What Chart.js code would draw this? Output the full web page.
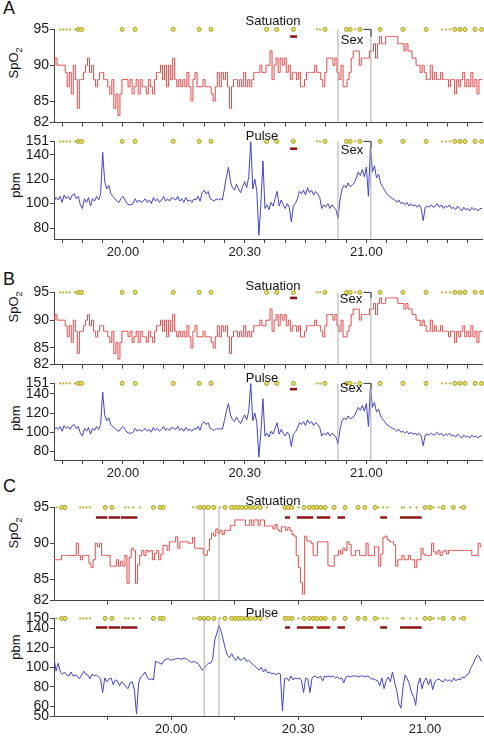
<!DOCTYPE html>
<html>
<head>
<meta charset="utf-8">
<script src="https://cdn.jsdelivr.net/npm/chart.js@4.4.0/dist/chart.umd.min.js"></script>
<style>
  body { margin: 0; background: #fff; font-family: 'Liberation Sans', Arial, sans-serif; }
  #page { position: relative; width: 484px; height: 738px; overflow: hidden; }
  canvas { position: absolute; left: 0; }
  .txt { position: absolute; color: #111; font-size: 13px; white-space: nowrap; transform: translate(-50%, -50%); }
  .letter { position: absolute; left: 3px; font-size: 18px; line-height: 18px; color: #111; }
  .ytitle { position: absolute; color: #111; font-size: 13px; white-space: nowrap; transform: translate(-50%, -50%) rotate(-90deg); }
  .ytitle sub { font-size: 9px; }
</style>
</head>
<body>
<div id="page">
  <div class="letter" style="top:-1px">A</div>
  <div class="letter" style="top:270px">B</div>
  <div class="letter" style="top:477px">C</div>

  <div class="ytitle" style="left:15px; top:63px">SpO<sub>2</sub></div>
  <div class="ytitle" style="left:15px; top:185px">pbm</div>
  <div class="ytitle" style="left:15px; top:307px">SpO<sub>2</sub></div>
  <div class="ytitle" style="left:15px; top:418px">pbm</div>
  <div class="ytitle" style="left:15px; top:533px">SpO<sub>2</sub></div>
  <div class="ytitle" style="left:15px; top:647px">pbm</div>
</div>
<script>
// sampling of the traces (minutes after midnight, 0.5 min steps)
const STEP = 0.5;
const T0_AB = 1183;    // 19.43
const T0_C = 1172.3;   // 19.32

// Panel A / B (same recording)
const spo2AB = [
  90,91,90,90,90,90,89,87,89,86, 90,88,84,88,88,89,90,91,89,90,
  88,87,88,89,89,88,88,87,86,88, 84,86,83,86,88,88,88,87,88,86,
  87,88,86,88,87,87,86,88,87,86, 88,89,89,90,88,90,87,90,88,91,
  88,87,88,87,88,87,89,87,85,88, 89,87,87,87,88,87,87,87,86,85,
  87,89,87,89,88,89,87,84,87,88, 88,87,88,87,89,87,88,87,88,89,
  89,89,90,89,89,90,90,92,88,90, 91,89,91,90,91,89,90,88,89,89,
  88,89,87,87,88,89,89,89,89,90, 89,89,88,87,89,91,91,91,90,91,
  89,88,90,87,87,88,89,91,92,92, 92,90,91,91,91,91,92,92,93,91,
  93,94,93,93,94,94,94,94,94,94, 93,93,93,92,93,92,92,91,91,90,
  90,89,90,89,88,88,90,88,89,88, 88,89,88,88,88,87,88,88,86,88,
  87,88,89,87,88,87,89,87,88,86, 88,88
];
const pulseAB = [
  102,105,103,106,101,107,104,106,103,107, 108,104,106,99,96,104,101,105,98,104,
  102,106,103,108,142,118,112,115,108,106, 104,102,101,104,106,103,100,99,99,100,
  104,101,103,101,102,104,101,103,100,105, 102,104,101,103,106,102,104,102,105,104,
  103,106,102,104,101,105,102,103,101,104, 103,106,102,109,111,108,110,104,103,102,
  104,103,104,103,112,122,130,118,113,111, 116,112,109,114,118,113,122,151,112,120,
  110,74,100,135,96,99,95,101,98,104, 110,98,103,99,96,100,97,85,98,100,
  104,110,108,111,107,113,109,111,107,110, 108,105,96,99,97,100,96,99,97,95,
  88,103,112,115,113,117,114,115,117,121, 126,123,128,122,130,106,147,126,131,121,
  124,117,114,111,108,107,105,104,103,101, 103,100,101,99,101,98,100,98,99,97,
  99,96,86,97,98,97,99,97,98,100, 97,99,96,98,97,99,96,97,95,98,
  96,94,97,95,96,94,97,95,96,94, 96,96
];
const marksBigAB = [1189.0, 1189.8, 1199.8, 1203.0, 1212.4, 1218.8, 1221.7, 1235.4, 1237.9, 1242.0,
  1249.8, 1255.1, 1256.0, 1258.4, 1263.4, 1269.0, 1274.7, 1281.8, 1283.1, 1284.3, 1286.8, 1288.4];
const marksSmallAB = [1184.5, 1185.3, 1186.1, 1186.9, 1188.2, 1247.8, 1248.6, 1257.2, 1278.6, 1279.6, 1280.6];
const redStartAB = [1241.2];
const redEndAB = [1242.9];
const sexLinesAB = [1253.0, 1261.1];

// Panel C
const spo2C = [
  87.7,87.7,87.7,87.7,88.3,88.3,88.3,88.3,88.3,88.3, 88.3,90,88.3,87.7,88.3,88.3,88.3,87.2,86.6,87.7,
  90,89.5,90,88.3,88.3,88.3,88.3,86.8,86.8,86.8, 87.7,86.8,87.5,86.8,88.3,84.4,88,89.3,89,84.4,
  87,88.3,89,88.3,89,88.8,89,87.7,88.6,89, 87.7,88.5,89.7,89.7,89,90.2,90.2,90.2,90.9,89.3,
  90.2,90.2,90.2,90.2,90,90,90.8,89.3,89.3,89.3, 89.3,88.5,88.3,89,90.6,91.4,91,92,91.4,91.8,
  91.2,91.8,91.8,91.8,92.5,92.5,93.25,93.25,93.25,93.25, 93.25,92.5,92.5,93.25,92.5,93.25,93.25,92.5,93.25,93.25,
  92.4,92.4,92.4,92.4,92,92.6,91.9,91.6,92.3,92.3, 91.8,92.2,91.8,91.2,91,88.3,86.6,84.5,82.9,91,
  90.3,90.3,90,88.3,88.3,90.2,90.2,90.2,90.2,90.2, 86.9,86.8,86.8,88.3,88.3,89,88.5,89.3,89,90.2,
  89.8,88.3,88.3,89,89,88.3,88.3,88.3,90,88.3, 88.3,88.3,89.5,89.5,86.8,88.5,90.8,91,90.5,90.2,
  90.2,89.8,86.8,87.7,87.7,88.3,87.7,87.7,88.3,87.7, 87.7,86.6,87.7,87.7,89.3,88.5,88.3,88.3,88.3,90,
  88.8,88.5,89,88.3,88.8,89,88.5,89,89,89, 89,89,89,89,89,89,89,89,88.3,88.3,
  88.3,90,89.5
];
const pulseC = [
  109,96,104,95,93,95,92,91,95,91, 92,91,88,92,96,93,92,88,93,91,
  92,90,88,74,89,85,88,89,82,87, 86,81,85,83,80,78,84,85,77,52,
  84,90,92,95,90,87,88,87,106,105, 104,103,107,108,109,107,108,108,109,109,
  108,109,109,108,106,105,106,105,104,101, 97,99,102,104,104,108,128,135,143,137,
  128,119,112,110,114,109,107,111,107,108, 110,106,107,105,103,101,99,97,100,95,
  98,94,95,93,94,92,94,93,55,88, 89,86,91,87,89,88,89,86,74,89,
  88,74,89,91,90,89,91,86,91,90, 91,90,91,89,90,88,89,84,90,91,
  90,91,91,91,90,91,91,90,91,90, 88,88,87,86,81,89,78,86,90,85,
  95,85,76,63,58,80,92,88,83,74, 70,61,82,89,78,86,89,82,88,77,
  85,87,88,86,85,88,86,87,85,89, 86,88,87,90,89,92,93,99,103,108,
  112,111,106
];
const marksBigC = [1174.1, 1174.9, 1184.4, 1186.0, 1195.8, 1197.4, 1198.1, 1206.8, 1207.8, 1208.8,
  1210.1, 1212.7, 1214.3, 1215.1, 1215.9, 1216.7, 1217.7, 1218.7, 1219.8, 1221.0, 1226.9, 1227.7,
  1228.5, 1231.4, 1232.7, 1233.6, 1234.4, 1235.4, 1236.4, 1238.5, 1241.1, 1244.2, 1245.8, 1248.2,
  1260.0, 1261.2, 1264.3, 1266.7, 1269.1];
const marksSmallC = [1172.9, 1178.5, 1179.2, 1180.0, 1180.8, 1189.1, 1189.9, 1191.0, 1192.6, 1205.2,
  1206.0, 1211.5, 1222.6, 1230.1, 1249.0, 1250.1, 1251.1, 1254.5, 1255.0, 1256.5, 1258.0, 1262.0,
  1263.2, 1268.3];
const redStartC = [1182.2, 1185.2, 1188.1, 1226.9, 1229.7, 1234.4, 1239.3, 1249.4, 1254.1];
const redEndC = [1184.9, 1187.9, 1192.0, 1228.1, 1233.6, 1237.6, 1241.1, 1251.0, 1259.2];
const sexLinesC = [1207.8, 1211.3];

// tick values
const spo2Ticks = [82, 85, 90, 95];
const pulseTicksAB = [80, 100, 120, 140, 151];
const pulseTicksC = [50, 60, 80, 100, 120, 140, 150];
const xTicksAB = [1185, 1190, 1195, 1200, 1205, 1210, 1215, 1220, 1225, 1230, 1235, 1240, 1245,
  1250, 1255, 1260, 1265, 1270, 1275, 1280, 1285];
const xTicksC = [1185, 1200, 1215, 1230, 1245, 1260];

const RED = '#e04a4a';
const BLUE = '#4343c6';
const AXIS = '#444';

function fmtTime(v) {
    const h = Math.floor(v / 60);
    const m = Math.round(v - h * 60);
    return h + '.' + (m < 10 ? '0' + m : m);
}

function series(t0, vals) {
    return vals.map((v, i) => ({ x: t0 + i * STEP, y: v }));
}

function buildPanel(cfg) {
    const page = document.getElementById('page');
    const canvas = document.createElement('canvas');
    const padTop = 8;
    const axisH = cfg.xLabels ? 22 : 5;
    canvas.width = 484;
    canvas.height = padTop + (cfg.bottom - cfg.top) + axisH;
    canvas.style.top = (cfg.top - padTop) + 'px';
    page.appendChild(canvas);

    // vertical event lines
    const vlines = [];
    cfg.lines.forEach(t => {
        vlines.push({ x: t, y: cfg.yMin }, { x: t, y: cfg.yMax }, { x: t, y: null });
    });
    // red event dashes
    const red = [];
    cfg.redStart.forEach((s, i) => {
        red.push({ x: s, y: cfg.redLevel }, { x: cfg.redEnd[i], y: cfg.redLevel }, { x: cfg.redEnd[i], y: null });
    });
    const datasets = [
        { data: vlines, borderColor: '#ababab', borderWidth: 1, pointRadius: 0, spanGaps: false },
        { data: series(cfg.t0, cfg.values), borderColor: cfg.color, borderWidth: 1, pointRadius: 0,
          stepped: cfg.stepped ? 'middle' : false },
        { data: cfg.marksBig.map(t => ({ x: t, y: cfg.yMax })), showLine: false, pointRadius: 2,
          pointBackgroundColor: '#e9e25c', pointBorderColor: '#a39c2e', pointBorderWidth: 1, clip: false },
        { data: cfg.marksSmall.map(t => ({ x: t, y: cfg.yMax })), showLine: false, pointRadius: 0.9,
          pointBackgroundColor: '#cfc84a', pointBorderColor: '#aaa236', pointBorderWidth: 0.5, clip: false },
        { data: red, borderColor: '#8e1414', borderWidth: 2.6, pointRadius: 0, spanGaps: false, clip: false }
    ];
    if (cfg.bracket) {
        datasets.push({
            data: [{ x: cfg.bracket[0], y: cfg.yMax }, { x: cfg.bracket[1], y: cfg.yMax },
                   { x: cfg.bracket[1], y: cfg.yMax - cfg.bracketDrop }],
            borderColor: '#333', borderWidth: 1, pointRadius: 0, clip: false
        });
    }

    new Chart(canvas, {
        type: 'line',
        data: { datasets },
        options: {
            responsive: false,
            animation: false,
            events: [],
            layout: { autoPadding: false, padding: { top: padTop, right: cfg.padRight, left: 0, bottom: 0 } },
            plugins: { legend: { display: false }, tooltip: { enabled: false } },
            scales: {
                x: {
                    type: 'linear',
                    min: cfg.xMin,
                    max: cfg.xMax,
                    afterFit: s => { s.height = axisH; },
                    afterBuildTicks: s => { s.ticks = cfg.xTicks.map(v => ({ value: v })); },
                    grid: { drawOnChartArea: false, drawTicks: true, tickLength: 4, color: AXIS },
                    border: { display: true, color: AXIS, width: 1 },
                    ticks: {
                        autoSkip: false,
                        maxRotation: 0,
                        padding: 2,
                        color: '#1a1a1a',
                        font: { family: 'Liberation Sans', size: 13 },
                        callback: v => (cfg.xLabels && v % 30 === 0) ? fmtTime(v) : ''
                    }
                },
                y: {
                    min: cfg.yMin,
                    max: cfg.yMax,
                    afterFit: s => { s.width = 54; },
                    afterBuildTicks: s => { s.ticks = cfg.yTicks.map(v => ({ value: v })); },
                    grid: { drawOnChartArea: false, drawTicks: true, tickLength: 4, color: AXIS },
                    border: { display: true, color: AXIS, width: 1 },
                    ticks: {
                        autoSkip: false,
                        padding: 1,
                        color: '#1a1a1a',
                        font: { family: 'Liberation Sans', size: 14 }
                    }
                }
            }
        }
    });
}

const abX = { t0: T0_AB, xMin: 1183, xMax: 1288.5, xTicks: xTicksAB, padRight: 2,
    marksBig: marksBigAB, marksSmall: marksSmallAB, redStart: redStartAB, redEnd: redEndAB,
    lines: sexLinesAB, bracket: [1259.3, 1261.1] };
const cX = { t0: T0_C, xMin: 1172.3, xMax: 1273.7, xTicks: xTicksC, padRight: 1,
    marksBig: marksBigC, marksSmall: marksSmallC, redStart: redStartC, redEnd: redEndC,
    lines: sexLinesC, bracket: null };

// A
buildPanel(Object.assign({}, abX, { top: 28, bottom: 127, values: spo2AB, color: RED, stepped: true,
    yMin: 82, yMax: 95, yTicks: spo2Ticks, redLevel: 94, bracketDrop: 1, xLabels: false }));
buildPanel(Object.assign({}, abX, { top: 140, bottom: 239, values: pulseAB, color: BLUE, stepped: false,
    yMin: 71, yMax: 151, yTicks: pulseTicksAB, redLevel: 145, bracketDrop: 6, xLabels: true }));
// B
buildPanel(Object.assign({}, abX, { top: 291, bottom: 369, values: spo2AB, color: RED, stepped: true,
    yMin: 82, yMax: 95, yTicks: spo2Ticks, redLevel: 94, bracketDrop: 1, xLabels: false }));
buildPanel(Object.assign({}, abX, { top: 382, bottom: 460, values: pulseAB, color: BLUE, stepped: false,
    yMin: 71, yMax: 151, yTicks: pulseTicksAB, redLevel: 145, bracketDrop: 6, xLabels: true }));
// C
buildPanel(Object.assign({}, cX, { top: 506, bottom: 605, values: spo2C, color: RED, stepped: true,
    yMin: 82, yMax: 95, yTicks: spo2Ticks, redLevel: 93.6, xLabels: false }));
buildPanel(Object.assign({}, cX, { top: 617, bottom: 716, values: pulseC, color: BLUE, stepped: false,
    yMin: 50, yMax: 150, yTicks: pulseTicksC, redLevel: 140.7, xLabels: true }));

// in-plot labels
const labels = [
    ['Satuation', 273, 20], ['Pulse', 262, 135], ['Sex', 352, 39], ['Sex', 352, 149],
    ['Satuation', 273, 285], ['Pulse', 262, 377], ['Sex', 351, 298], ['Sex', 351, 387],
    ['Satuation', 273, 500], ['Pulse', 262, 612]
];
labels.forEach(([text, x, y]) => {
    const d = document.createElement('div');
    d.className = 'txt';
    d.textContent = text;
    d.style.left = x + 'px';
    d.style.top = y + 'px';
    document.getElementById('page').appendChild(d);
});
</script>
</body>
</html>
